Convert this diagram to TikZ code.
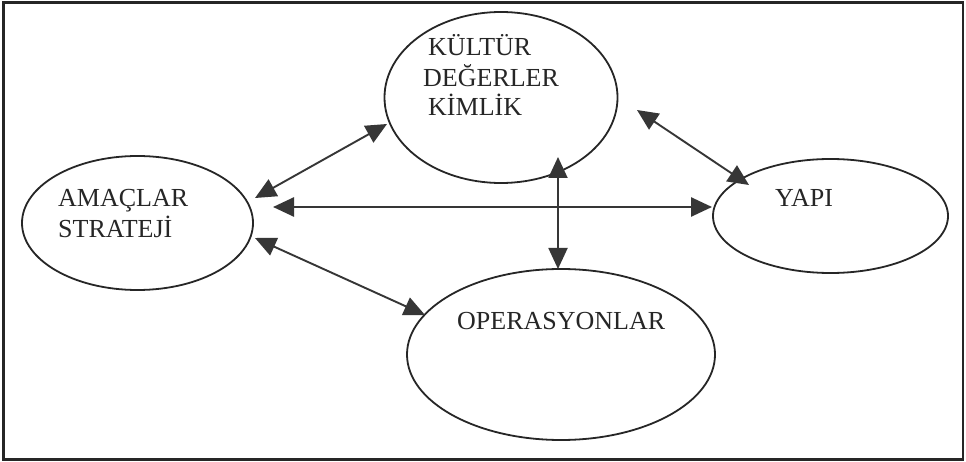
\documentclass[tikz,border=0pt]{standalone}
\usepackage{fontspec}
\setmainfont{Liberation Serif}
\usetikzlibrary{shapes.geometric,arrows.meta,calc}
\definecolor{ink}{HTML}{262626}
\definecolor{arrowc}{HTML}{363636}
\begin{document}
\begin{tikzpicture}[x=1pt,y=-1pt,
  oval/.style={ellipse,draw=ink,line width=1.8pt,inner sep=0pt,outer sep=0pt},
  lbl/.style={font=\fontsize{26}{30}\selectfont,text=ink,inner sep=0pt,anchor=base west},
  arr/.style={line width=1.9pt,draw=arrowc,
    {Triangle[length=21pt,width=19pt]}-{Triangle[length=21pt,width=19pt]}}]
\useasboundingbox (0,0) rectangle (966,462);
\fill[white] (0,0) rectangle (966,462);
\draw[ink,line width=2.8pt] (3.5,2.5) rectangle (963,459.5);
% ellipses
\node[oval,minimum width=233,minimum height=171] (kult) at (501,97.5) {};
\node[oval,minimum width=231,minimum height=134] (amac) at (137.5,223) {};
\node[oval,minimum width=235,minimum height=114] (yapi) at (830.5,216) {};
\node[oval,minimum width=308,minimum height=171] (oper) at (561,354.5) {};
% texts
\node[lbl] (t1) at (428,55.5) {KÜLTÜR};
\node[lbl] (t2) at (423,86.5) {DEĞERLER};
\node[lbl] (t3) at (428,115.5) {KİMLİK};
\node[lbl] (t4) at (58,206.5) {AMAÇLAR};
\node[lbl] (t5) at (58,238) {STRATEJİ};
\node[lbl] (t6) at (775,206.5) {YAPI};
\node[lbl] (t7) at (457,329) {OPERASYONLAR};
% connectors
\draw[arr] ($(amac.center)+(117.5,-25)$) -- ($(kult.center)+(-114,26.5)$);
\draw[arr,line width=2.6pt] ($(amac.center)+(135.5,-16)$) -- ($(yapi.center)+(-118.5,-9)$);
\draw[arr] ($(amac.center)+(117.5,15)$) -- ($(oper.center)+(-136,-39.5)$);
\draw[arr] ($(kult.center)+(136,12.5)$) -- ($(yapi.center)+(-81.5,-31)$);
\draw[arr] ($(kult.center)+(57,59.5)$) -- ($(oper.north)+(-3,0)$);
\end{tikzpicture}
\end{document}
